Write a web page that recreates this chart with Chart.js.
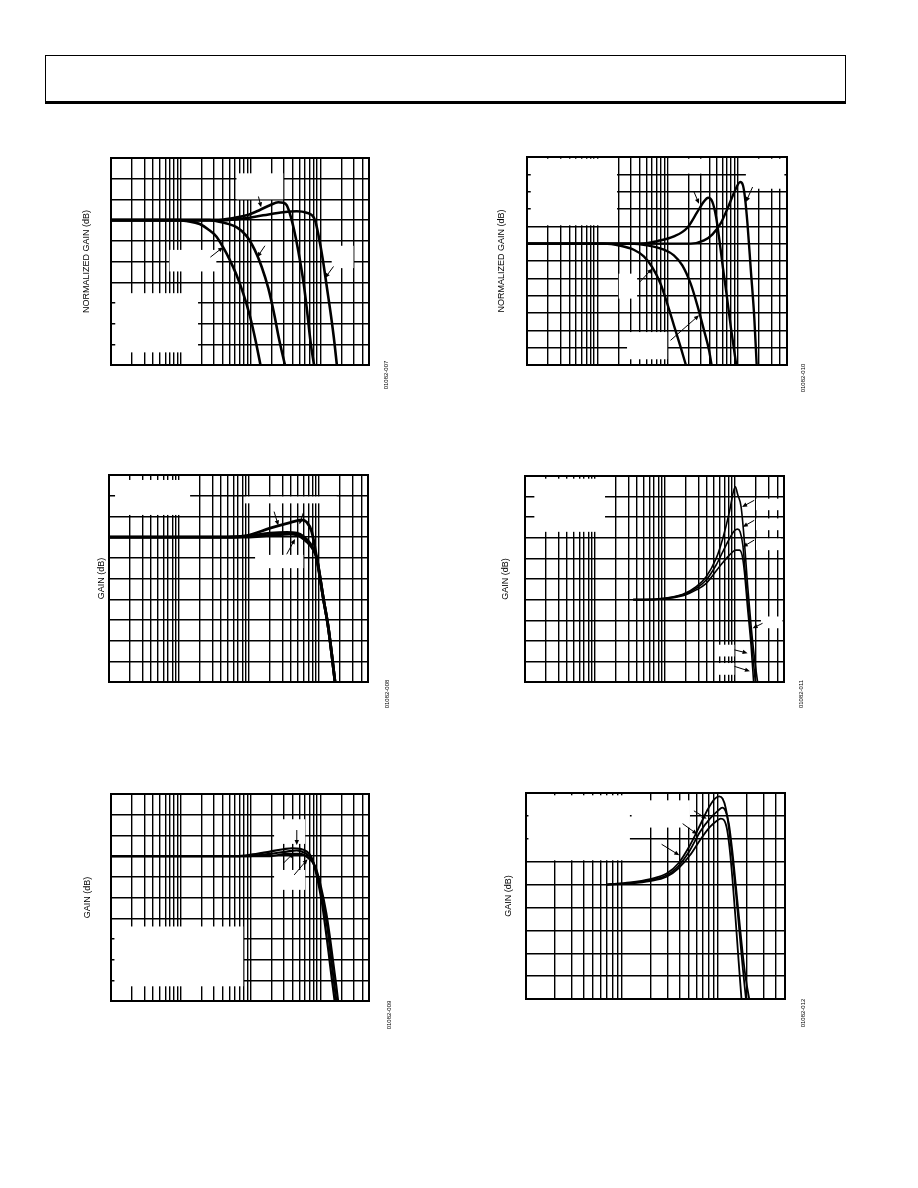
<!DOCTYPE html>
<html>
<head>
<meta charset="utf-8">
<script src="https://cdn.jsdelivr.net/npm/chart.js@4.4.1/dist/chart.umd.min.js"></script>
<style>
  html, body { margin: 0; padding: 0; background: #fff; }
  body { width: 918px; height: 1188px; position: relative; overflow: hidden; }
  .header { position: absolute; left: 45px; top: 55px; width: 799px; height: 45px;
            border: 1px solid #000; border-bottom: 3px solid #000; }
  canvas { position: absolute; }
</style>
</head>
<body>
<div class="header"></div>
<canvas id="fig7"></canvas>
<canvas id="fig10"></canvas>
<canvas id="fig8"></canvas>
<canvas id="fig11"></canvas>
<canvas id="fig9"></canvas>
<canvas id="fig12"></canvas>
<script>
// grid values (frequency in MHz, gain in dB)
const freqGridWide = [0.1, 0.2, 0.3, 0.4, 0.5, 0.6, 0.7, 0.8, 0.9, 1, 2, 3, 4, 5, 6, 7, 8, 9,
  10, 20, 30, 40, 50, 60, 70, 80, 90, 100, 200, 300, 400, 500];
const freqGridNarrow = [1, 2, 3, 4, 5, 6, 7, 8, 9, 10, 20, 30, 40, 50, 60, 70, 80, 90,
  100, 200, 300, 400, 500];
const gainGrid7 = [3, 2, 1, 0, -1, -2, -3, -4, -5, -6, -7];
const gainGrid10 = [5, 4, 3, 2, 1, 0, -1, -2, -3, -4, -5, -6, -7];
const gainGrid8 = [9, 8, 7, 6, 5, 4, 3, 2, 1, 0, -1];
const gainGrid11 = [6, 5, 4, 3, 2, 1, 0, -1, -2, -3, -4];
const gainGrid9 = [9, 8, 7, 6, 5, 4, 3, 2, 1, 0, -1];
const gainGrid12 = [4, 3, 2, 1, 0, -1, -2, -3, -4, -5];

// curves: [MHz, dB]
const fig7A = [[0.1, 0], [0.96, 0], [1.2, -0.04], [1.87, -0.19], [2.46, -0.44], [3.24, -0.79], [4.04, -1.31],
  [5.04, -1.92], [6.29, -2.64], [7.84, -3.53], [9.78, -4.62], [11.9, -5.86], [13.9, -7]];
const fig7B = [[0.1, 0], [2.6, 0], [4.04, -0.12], [6.29, -0.34], [8.75, -0.76], [11.5, -1.44], [14.4, -2.24],
  [18.0, -3.29], [21.7, -4.49], [25.8, -5.78], [31.2, -7]];
const fig7C = [[0.1, 0], [3.24, 0], [5.04, 0.07], [8.75, 0.23], [13.6, 0.49], [19.0, 0.72], [25.0, 0.86],
  [29.5, 0.84], [33.0, 0.72], [36.8, 0.30], [42.1, -0.47], [48.6, -1.52], [57.3, -2.96], [65.3, -4.49],
  [73.0, -5.94], [81.5, -7]];
const fig7D = [[0.1, 0], [4.04, 0], [7.84, 0.08], [15.2, 0.23], [29.5, 0.38], [45.9, 0.43], [64.0, 0.36],
  [78.0, 0.20], [84.2, 0], [94.1, -0.71], [109, -1.92], [124, -3.21], [143, -4.65], [160, -5.94], [173, -7]];

const fig10A = [[0.1, 0], [4.11, 0], [7.12, 0.15], [12.3, 0.42], [19.1, 0.92], [26.5, 1.83], [33.0, 2.44],
  [37.7, 2.65], [43.5, 2.40], [49.0, 1.54], [54.7, 0.19], [61.1, -1.35], [68.9, -2.88], [79.4, -4.81], [94.6, -6.96]];
const fig10B = [[0.1, 0], [21.3, 0], [33.0, 0.19], [43.5, 0.54], [57.2, 1.19], [72.8, 2.12], [90.6, 3.04],
  [108, 3.56], [118, 3.37], [126, 2.69], [137, 1.15], [153, -1.54], [171, -4.23], [185, -6.96]];
const fig10C = [[0.1, 0], [1.23, 0], [2.13, -0.12], [3.30, -0.35], [4.59, -0.73], [6.04, -1.35], [7.94, -2.31],
  [9.89, -3.46], [12.3, -4.71], [15.3, -5.96], [18.1, -6.96]];
const fig10D = [[0.1, 0], [2.96, 0], [5.13, -0.10], [8.87, -0.35], [12.3, -0.67], [16.2, -1.25], [21.3, -2.31],
  [26.5, -3.56], [33.0, -5.0], [38.9, -6.15], [42.1, -6.96]];

const fig8A = [[0.1, 6], [4.8, 6], [9.26, 6.07], [19.95, 6.43], [38.5, 6.70], [56.5, 6.83], [66.6, 6.72],
  [78.5, 6.27], [87.7, 5.46], [97.8, 4.5], [115, 3.05], [136, 1.6], [152, 0.32], [169, -1]];
const fig8B = [[0.1, 6], [4.8, 6], [9.26, 6.04], [19.95, 6.19], [34.5, 6.23], [48, 6.19], [59.7, 6.03],
  [74.3, 5.70], [92.7, 4.98], [115, 3.05], [136, 1.6], [152, 0.32], [169, -1]];
const fig8C = [[0.1, 6], [9.26, 6], [19.95, 6.08], [38.5, 6.14], [48, 6.11], [66.6, 5.78], [83, 5.38],
  [92.7, 4.98], [115, 3.05], [136, 1.6], [152, 0.32], [169, -1]];

const fig11A = [[3.51, 0], [5.14, 0], [9.37, 0.06], [18.0, 0.26], [27.9, 0.63], [38.7, 1.11], [53.7, 2.0],
  [66.8, 2.97], [83.0, 4.26], [94.6, 5.23], [101, 5.47], [109, 5.1], [122, 4.5], [136, 2.81], [151, 0.71],
  [169, -1.23], [188, -2.76], [210, -4]];
const fig11B = [[3.51, 0], [5.14, 0], [18.0, 0.23], [27.9, 0.55], [38.7, 0.95], [53.7, 1.68], [74.5, 2.65],
  [97.9, 3.34], [109, 3.42], [118, 3.29], [129, 2.65], [143, 0.95], [160, -0.9], [178, -2.6], [195, -4]];
const fig11C = [[3.51, 0], [5.14, 0], [18.0, 0.19], [27.9, 0.47], [38.7, 0.79], [59.8, 1.60], [83.0, 2.16],
  [103, 2.40], [115, 2.40], [126, 2.16], [136, 1.35], [151, -0.42], [169, -2.19], [184, -4]];

const fig9A = [[0.1, 6], [6.32, 6], [9.84, 6.06], [19.1, 6.22], [29.7, 6.33], [39.1, 6.38], [51.5, 6.35],
  [64.3, 6.22], [75.9, 5.90], [89.5, 5.01], [106, 3.73], [118, 2.60], [132, 1.32], [147, 0.03], [161, -1]];
const fig9B = [[0.1, 6], [9.84, 6], [19.1, 6.11], [33.1, 6.22], [46.1, 6.27], [60.8, 6.14], [75.9, 5.82],
  [94.6, 4.85], [112, 3.57], [128, 2.44], [142, 1.15], [156, 0.03], [170, -1]];
const fig9C = [[0.1, 6], [19.1, 6], [33.1, 6.11], [51.5, 6.11], [67.9, 5.90], [84.7, 5.50], [102, 4.53],
  [122, 3.24], [139, 1.96], [156, 0.67], [170, -0.29], [180, -1]];

const fig12A = [[6.92, 0], [12.1, 0.09], [19.6, 0.24], [29.2, 0.48], [38.6, 0.92], [51.1, 1.72], [65.0, 2.59],
  [79.3, 3.32], [93.0, 3.75], [103, 3.85], [112, 3.75], [121, 3.32], [131, 2.37], [142, 1.06], [154, -0.39],
  [167, -1.99], [181, -3.59], [196, -5]];
const fig12B = [[6.92, 0], [12.1, 0.06], [19.6, 0.19], [29.2, 0.41], [38.6, 0.80], [51.1, 1.50], [65.0, 2.30],
  [82.6, 2.88], [101, 3.24], [111, 3.36], [120, 3.22], [130, 2.66], [141, 1.50], [153, 0.05], [167, -1.55],
  [181, -3.0], [196, -4.17], [212, -5]];
const fig12C = [[6.92, 0], [12.1, 0.05], [19.6, 0.15], [29.2, 0.34], [38.6, 0.70], [51.1, 1.28], [65.0, 1.94],
  [82.6, 2.52], [96.8, 2.78], [107, 2.88], [116, 2.81], [125, 2.37], [133, 1.50], [142, 0.19], [153, -1.55],
  [164, -3.30], [176, -5]];

// blanked label areas [f1, f2, dBtop, dBbottom] and pointer arrows [f0, dB0, f1, dB1]
const fig7Blank = [[6.29, 29.5, 2.26, 1.0], [0.69, 3.24, -1.44, -2.48], [146, 300, -1.24, -2.32], [0.115, 1.77, -3.53, -6.39]];
const fig7Arrows = [[13.0, 1.14, 14.2, 0.62], [2.66, -1.79, 4.04, -1.31], [16.1, -1.24, 12.5, -1.79], [155, -2.24, 117, -2.80]];
const fig10Blank = [[0.113, 1.91, 4.9, 1.06], [10.4, 36.9, 4.9, 4.04], [130, 459, 4.9, 3.17], [2.02, 3.69, -1.73, -3.17], [2.65, 9.89, -5.1, -6.67]];
const fig10Arrows = [[23.8, 2.98, 28.0, 2.31], [162, 3.27, 130, 2.40], [4.03, -2.21, 6.04, -1.44], [11.0, -5.58, 28.0, -4.13]];
const fig8Blank = [[0.122, 1.44, 8.76, 7.07], [8.77, 179, 7.96, 7.63], [12.2, 59.7, 5.14, 4.5]];
const fig8Arrows = [[22.8, 7.23, 26.2, 6.56], [59.7, 7.18, 52.4, 6.62], [34.5, 5.17, 45.4, 5.91]];
const fig11Blank = [[0.136, 1.39, 5.87, 3.29], [199, 451, 4.90, 4.34], [199, 451, 3.94, 3.37], [199, 451, 2.97, 2.40],
  [234, 476, -0.82, -1.39], [56.7, 97.9, -2.19, -2.76], [56.7, 97.9, -3.08, -3.65]];
const fig11Arrows = [[188, 4.82, 126, 4.5], [188, 3.85, 129, 3.53], [188, 2.89, 129, 2.56], [247, -1.15, 178, -1.39],
  [97.9, -2.44, 151, -2.6], [97.9, -3.24, 163, -3.48]];
const fig9Blank = [[21.8, 60.8, 7.78, 6.59], [21.8, 60.8, 5.33, 4.37], [0.112, 7.88, 2.60, -0.29]];
const fig9Arrows = [[46.1, 7.26, 46.1, 6.54], [29.7, 5.66, 41.3, 6.14], [42.3, 5.09, 65.7, 5.85]];
const fig12Blank = [[1.06, 12.1, 3.9, 1.06], [12.6, 51.1, 3.68, 2.49]];
const fig12Arrows = [[56.2, 3.22, 76.2, 2.88], [42.9, 2.66, 60.9, 2.20], [25.9, 1.76, 39.6, 1.28]];

const PAD_T = 6, PAD_R = 26, PAD_B = 36;
const FONT = '"Liberation Sans", Arial, Helvetica, sans-serif';

const figures = [
  { id: 'fig7', figNo: '01082-007', yTitle: 'NORMALIZED GAIN (dB)', frame: [111, 158, 369, 365], axisW: 30,
    xGrid: freqGridWide, yGrid: gainGrid7, curves: [fig7A, fig7B, fig7C, fig7D], lineW: 2.6,
    blanks: fig7Blank, arrows: fig7Arrows, idAt: [17, 10] },
  { id: 'fig10', figNo: '01082-010', yTitle: 'NORMALIZED GAIN (dB)', frame: [527, 157, 787, 365], axisW: 31,
    xGrid: freqGridWide, yGrid: gainGrid10, curves: [fig10A, fig10B, fig10C, fig10D], lineW: 2.4,
    blanks: fig10Blank, arrows: fig10Arrows, idAt: [16, 13] },
  { id: 'fig8', figNo: '01082-008', yTitle: 'GAIN (dB)', frame: [109, 475, 368, 682], axisW: 13,
    xGrid: freqGridWide, yGrid: gainGrid8, curves: [fig8A, fig8B, fig8C], lineW: 2.8,
    blanks: fig8Blank, arrows: fig8Arrows, idAt: [19, 12] },
  { id: 'fig11', figNo: '01082-011', yTitle: 'GAIN (dB)', frame: [525, 476, 784, 682], axisW: 25,
    xGrid: freqGridWide, yGrid: gainGrid11, curves: [fig11A, fig11B, fig11C], lineW: 1.6,
    blanks: fig11Blank, arrows: fig11Arrows, idAt: [17, 12] },
  { id: 'fig9', figNo: '01082-009', yTitle: 'GAIN (dB)', frame: [111, 794, 369, 1001], axisW: 29,
    xGrid: freqGridWide, yGrid: gainGrid9, curves: [fig9A, fig9B, fig9C], lineW: 2.2,
    blanks: fig9Blank, arrows: fig9Arrows, idAt: [20, 14] },
  { id: 'fig12', figNo: '01082-012', yTitle: 'GAIN (dB)', frame: [526, 793, 785, 999], axisW: 23,
    xGrid: freqGridNarrow, yGrid: gainGrid12, curves: [fig12A, fig12B, fig12C], lineW: 1.8,
    blanks: fig12Blank, arrows: fig12Arrows, idAt: [18, 14] }
];

const figById = {};

function drawArrow(ctx, x0, y0, x1, y1) {
  const ang = Math.atan2(y1 - y0, x1 - x0);
  const L = 5, W = 2.2;
  const c = Math.cos(ang), s = Math.sin(ang);
  ctx.beginPath();
  ctx.moveTo(x0, y0);
  ctx.lineTo(x1 - L * c * 0.7, y1 - L * s * 0.7);
  ctx.stroke();
  ctx.beginPath();
  ctx.moveTo(x1, y1);
  ctx.lineTo(x1 - L * c + W * s, y1 - L * s - W * c);
  ctx.lineTo(x1 - L * c - W * s, y1 - L * s + W * c);
  ctx.closePath();
  ctx.fill();
}

const pageMarks = {
  id: 'pageMarks',
  beforeDatasetsDraw(chart) {
    const f = figById[chart.canvas.id];
    const { ctx, chartArea: a, scales: { x, y } } = chart;
    ctx.save();
    ctx.fillStyle = '#fff';
    f.blanks.forEach(([f1, f2, g1, g2]) => {
      const px1 = x.getPixelForValue(f1), px2 = x.getPixelForValue(f2);
      const py1 = y.getPixelForValue(g1), py2 = y.getPixelForValue(g2);
      ctx.fillRect(px1, py1, px2 - px1, py2 - py1);
    });
    ctx.strokeStyle = '#000';
    ctx.lineWidth = 2;
    ctx.strokeRect(a.left, a.top, a.width, a.height);
    ctx.restore();
  },
  afterDatasetsDraw(chart) {
    const f = figById[chart.canvas.id];
    const { ctx, scales: { x, y } } = chart;
    ctx.save();
    ctx.strokeStyle = '#000';
    ctx.fillStyle = '#000';
    ctx.lineWidth = 1;
    f.arrows.forEach(([f0, g0, f1, g1]) => {
      drawArrow(ctx, x.getPixelForValue(f0), y.getPixelForValue(g0), x.getPixelForValue(f1), y.getPixelForValue(g1));
    });
    ctx.restore();
  },
  afterDraw(chart) {
    const f = figById[chart.canvas.id];
    const { ctx, chartArea: a } = chart;
    ctx.save();
    ctx.translate(a.right + f.idAt[0], a.bottom + f.idAt[1]);
    ctx.rotate(-Math.PI / 2);
    ctx.fillStyle = '#000';
    ctx.font = '6px ' + FONT;
    ctx.textAlign = 'center';
    ctx.textBaseline = 'middle';
    ctx.fillText(f.figNo, 0, 0);
    ctx.restore();
  }
};

figures.forEach(f => {
  figById[f.id] = f;
  const [l, t, r, b] = f.frame;
  const canvas = document.getElementById(f.id);
  canvas.width = r - l + f.axisW + PAD_R;
  canvas.height = b - t + PAD_T + PAD_B;
  canvas.style.left = (l - f.axisW) + 'px';
  canvas.style.top = (t - PAD_T) + 'px';

  const gridStyle = { color: '#000', lineWidth: 1.4, drawTicks: false };
  const borderStyle = { display: true, color: '#000', width: 2 };

  new Chart(canvas, {
    type: 'line',
    data: {
      datasets: f.curves.map(c => ({
        data: c.map(([fx, gy]) => ({ x: fx, y: gy })),
        borderColor: '#000',
        borderWidth: f.lineW,
        pointRadius: 0,
        fill: false,
        cubicInterpolationMode: 'monotone'
      }))
    },
    options: {
      responsive: false,
      animation: false,
      events: [],
      layout: { padding: { top: PAD_T, right: PAD_R, bottom: PAD_B, left: 0 } },
      plugins: { legend: { display: false }, tooltip: { enabled: false } },
      scales: {
        x: {
          type: 'logarithmic',
          min: f.xGrid[0],
          max: f.xGrid[f.xGrid.length - 1],
          ticks: { display: false },
          grid: gridStyle,
          border: borderStyle,
          afterBuildTicks: ax => { ax.ticks = f.xGrid.map(v => ({ value: v })); },
          afterFit: ax => { ax.height = 0; }
        },
        y: {
          type: 'linear',
          min: f.yGrid[f.yGrid.length - 1],
          max: f.yGrid[0],
          ticks: { display: false },
          grid: gridStyle,
          border: borderStyle,
          title: { display: true, text: f.yTitle, color: '#000', padding: 0, font: { family: FONT, size: 9 } },
          afterBuildTicks: ax => { ax.ticks = f.yGrid.map(v => ({ value: v })); },
          afterFit: ax => { ax.width = f.axisW; }
        }
      }
    },
    plugins: [pageMarks]
  });
});
</script>
</body>
</html>
